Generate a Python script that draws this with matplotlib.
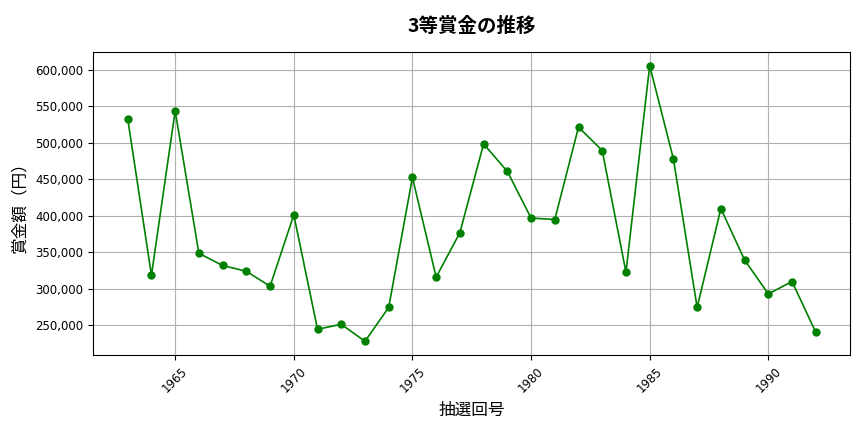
import matplotlib
matplotlib.use('Agg')
import matplotlib.pyplot as plt
from matplotlib.ticker import FuncFormatter

plt.rcParams['font.family'] = ['Noto Sans CJK JP', 'DejaVu Sans']

# draw numbers (抽選回号) and 3rd prize amounts
draws = [1963, 1964, 1965, 1966, 1967, 1968, 1969, 1970, 1971, 1972,
         1973, 1974, 1975, 1976, 1977, 1978, 1979, 1980, 1981, 1982,
         1983, 1984, 1985, 1986, 1987, 1988, 1989, 1990, 1991, 1992]
prizes = [533000, 318600, 544000, 348600, 332000, 324000, 303500, 401400, 244500, 251400,
          228000, 274500, 452700, 316000, 377000, 498600, 461000, 397000, 395000, 521700,
          489500, 322700, 606000, 478000, 274500, 410000, 339500, 293000, 310000, 240400]

fig = plt.figure(figsize=(8.64, 4.32), dpi=100)
ax = fig.add_axes([0.108, 0.178, 0.876, 0.702])

ax.plot(draws, prizes, color='green', marker='o', markersize=5, linewidth=1.2)

ax.set_title('3等賞金の推移', fontsize=14, fontweight='bold', pad=14)
ax.set_xlabel('抽選回号', fontsize=12, labelpad=5)
ax.set_ylabel('賞金額（円）', fontsize=12, labelpad=5)
ax.yaxis.set_major_formatter(FuncFormatter(lambda v, p: '{:,.0f}'.format(v)))
ax.tick_params(axis='x', labelrotation=45)
ax.tick_params(labelfontfamily='DejaVu Sans', labelsize=8.5)
ax.grid(True, color='#b0b0b0', linewidth=0.8)

fig.savefig('out.png', dpi=100)
